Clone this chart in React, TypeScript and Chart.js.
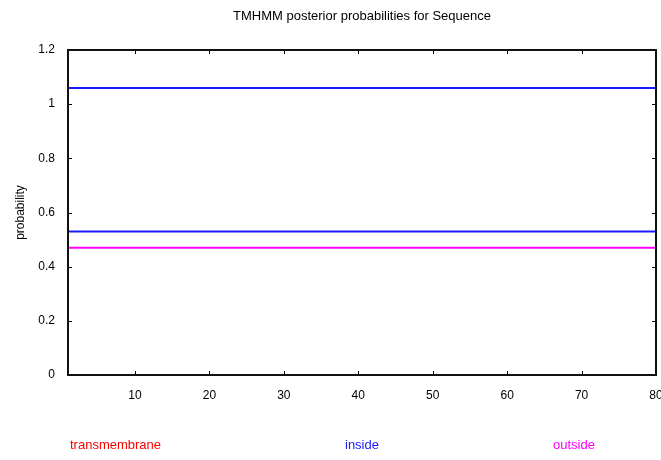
import React, { useEffect, useRef } from "react";
import { Chart, registerables } from "chart.js";

Chart.register(...registerables);

const titleText = "TMHMM posterior probabilities for Sequence";
const yTitle = "probability";
const xTicks = [10, 20, 30, 40, 50, 60, 70, 80];
const yTicks = [0, 0.2, 0.4, 0.6, 0.8, 1, 1.2];
const positions = [1, 80];
const transmembraneValues = [0, 0];
const insideValues = [0.53, 0.53];
const insideUpperValues = [1.06, 1.06];
const outsideValues = [0.47, 0.47];
const legendLabels = ["transmembrane", "inside", "outside"];
const legendColors = ["#ff0000", "#1a1aff", "#ff00ff"];

const FONT = "'Liberation Sans', Arial, sans-serif";

const pts = (vals: number[]) => positions.map((x, i) => ({ x, y: vals[i] }));

const decorPlugin = {
  id: "decor",
  afterDatasetsDraw(chart: any) {
    const { ctx, chartArea, scales } = chart;
    const { left, right, top, bottom } = chartArea;
    ctx.save();
    ctx.strokeStyle = "#000";
    ctx.lineWidth = 1;
    yTicks.forEach((v) => {
      const y = Math.round(scales.y.getPixelForValue(v)) + 0.5;
      ctx.beginPath();
      ctx.moveTo(left, y);
      ctx.lineTo(left + 4, y);
      ctx.moveTo(right, y);
      ctx.lineTo(right - 4, y);
      ctx.stroke();
    });
    xTicks.forEach((v) => {
      const x = Math.round(scales.x.getPixelForValue(v)) + 0.5;
      ctx.beginPath();
      ctx.moveTo(x, bottom);
      ctx.lineTo(x, bottom - 4);
      ctx.moveTo(x, top);
      ctx.lineTo(x, top + 4);
      ctx.stroke();
    });
    ctx.lineWidth = 2;
    ctx.strokeStyle = "#111";
    ctx.strokeRect(left, top, right - left, bottom - top);
    ctx.fillStyle = "#000";
    ctx.font = `13px ${FONT}`;
    ctx.textAlign = "center";
    ctx.textBaseline = "middle";
    ctx.fillText(titleText, (left + right) / 2, 16);
    ctx.font = `13px ${FONT}`;
    ctx.textAlign = "left";
    const lx = [left + 2, (left + right) / 2 - 17, right - 103];
    legendLabels.forEach((t, i) => {
      ctx.fillStyle = legendColors[i];
      ctx.fillText(t, lx[i], 445);
    });
    ctx.restore();
  },
};

export default function App() {
  const ref = useRef<HTMLCanvasElement | null>(null);
  useEffect(() => {
    if (!ref.current) return;
    const chart = new Chart(ref.current, {
      type: "line",
      data: {
        datasets: [
          {
            label: legendLabels[0],
            data: pts(transmembraneValues),
            borderColor: legendColors[0],
            borderWidth: 2,
            pointRadius: 0,
          },
          {
            label: legendLabels[1],
            data: pts(insideValues),
            borderColor: legendColors[1],
            borderWidth: 2,
            pointRadius: 0,
          },
          {
            label: legendLabels[1] + " ",
            data: pts(insideUpperValues),
            borderColor: legendColors[1],
            borderWidth: 2,
            pointRadius: 0,
          },
          {
            label: legendLabels[2],
            data: pts(outsideValues),
            borderColor: legendColors[2],
            borderWidth: 2,
            pointRadius: 0,
          },
        ],
      },
      options: {
        animation: false,
        responsive: false,
        layout: { padding: { top: 50, right: 5, bottom: 40, left: 0 } },
        plugins: {
          legend: { display: false },
          title: { display: false },
          tooltip: { enabled: false },
        },
        scales: {
          x: {
            type: "linear",
            min: positions[0],
            max: positions[positions.length - 1],
            grid: { display: false, drawTicks: false },
            border: { display: false },
            afterBuildTicks: (s: any) => {
              s.ticks = xTicks.map((v) => ({ value: v }));
            },
            afterFit: (s: any) => {
              s.height = 45;
              s.paddingRight = 0;
              s.paddingLeft = 0;
            },
            ticks: {
              padding: 13,
              color: "#000",
              maxRotation: 0,
              font: { family: FONT, size: 12 },
              callback: (v: any) => String(v),
            },
          },
          y: {
            type: "linear",
            min: 0,
            max: 1.2,
            grid: { display: false, drawTicks: false },
            border: { display: false },
            afterBuildTicks: (s: any) => {
              s.ticks = yTicks.map((v) => ({ value: v }));
            },
            afterFit: (s: any) => {
              s.width = 68;
              s.paddingTop = 0;
              s.paddingBottom = 0;
            },
            title: {
              display: true,
              text: yTitle,
              color: "#000",
              font: { family: FONT, size: 12 },
              padding: { top: 13, bottom: 0 },
            },
            ticks: {
              padding: 13,
              color: "#000",
              font: { family: FONT, size: 12 },
              callback: (v: any) => String(Math.round(v * 10) / 10),
            },
          },
        },
      },
      plugins: [decorPlugin],
    });
    return () => chart.destroy();
  }, []);
  return (
    <div style={{ position: "absolute", left: 0, top: 0, width: 661, height: 460, background: "#fff" }}>
      <canvas ref={ref} width={661} height={460} style={{ width: 661, height: 460 }} />
    </div>
  );
}
